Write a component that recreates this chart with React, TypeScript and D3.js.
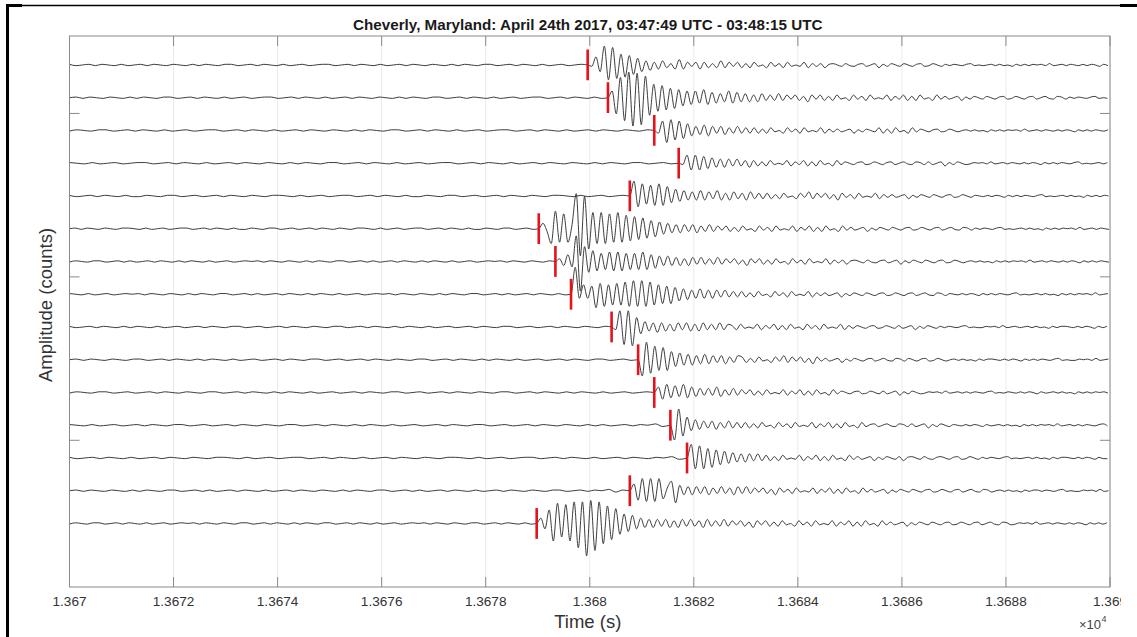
import React from "react";
import * as d3 from "d3";

// ---------- data ----------
const TITLE = "Cheverly, Maryland: April 24th 2017, 03:47:49 UTC - 03:48:15 UTC";
const X_LABEL = "Time (s)";
const Y_LABEL = "Amplitude (counts)";
const X_DOMAIN = [13670, 13690];
const X_TICKS = [13670, 13672, 13674, 13676, 13678, 13680, 13682, 13684, 13686, 13688, 13690];
const X_TICK_LABELS = ["1.367", "1.3672", "1.3674", "1.3676", "1.3678", "1.368", "1.3682", "1.3684", "1.3686", "1.3688", "1.369"];
const X_EXPONENT = "4";
const Y_DOMAIN = [-0.885, 15.94];
const Y_TICKS = [1.48, 6.47, 11.46];
const TRACE_OFFSETS = [0, 1, 2, 3, 4, 5, 6, 7, 8, 9, 10, 11, 12, 13, 14];
const PICK_TIMES = [
  13679.96, 13680.35, 13681.24, 13681.71, 13680.77, 13679.02, 13679.34, 13679.64,
  13680.42, 13680.93, 13681.24, 13681.55, 13681.87, 13680.77, 13678.98,
];
const SAMPLE_DT = 0.08; // s between samples after the pick
const AMP_STEP = 0.0412; // trace-offset units per amplitude step
// amplitude code: '0'=0, '+'=+0.5, '-'=-0.5, A..Z = +1..+26 (up), a..z = -1..-26 (down)
// background noise from 13670 s up to the pick, evenly spread
const PRE_NOISE = [
  "+-0+-+0-+-0+-+0-+0-+-+0-++-0+-+0-+-0+-0++-0+-+0-+-0+-+0-+0-+-+0-++-0+-+0-+-0+-0+",
  "0+-+0-+0-+-+0-++-0+-+0-+-0+-0++-0+-+0-+-0+-+0-+0-+-+0-++-0+-+0-+-0+-0++-0+-+0-+-",
  "-+0-++-0+-+0-+-0+-0++-0+-+0-+-0+-+0-+0-+-+0-++-0+-+0-+-0+-0++-0+-+0-+-0+-+0-+0-+",
  "+0-+-0+-0++-0+-+0-+-0+-+0-+0-+-+0-++-0+-+0-+-0+-0++-0+-+0-+-0+-+0-+0-+-+0-++-0+-",
  "+-0+-+0-+--+0-++-0+-0+-+0-+0-++0-+-0+-0++-0+-+0-+--+0-++-0+-0+-+0-+0-++0-+-0+-0+",
  "0+-+0-+0-++0-+-0+-0++-0+-+0-+--+0-++-0+-0+-+0-+0-++0-+-0+-0++-0+-+0-+--+0-++-0+-",
  "-+0-++-0+-+-0+-+0-+-+0-+-0+-0+0+-+0-+0-+-+0-++-0+-+-0+-+0-+-+0-+-0+-0+0+-+0-+0-+",
  "+0-+-0+-0+0+-+0-+0-+-+0-++-0+-+-0+-+0-+-+0-+-0+-0+0+-+0-+0-+-+0-++-0+-+-0+-+0-+-",
  "+-0+-+0-+-+0-+-0+-0+-+0-++-0+-0+-+0-+0-++-0+-+0-+-+0-+-0+-0+-+0-++-0+-0+-+0-+0-+",
  "0+-+0-+0-++-0+-+0-+-+0-+-0+-0+-+0-++-0+-0+-+0-+0-++-0+-+0-+-+0-+-0+-0+-+0-++-0+-",
  "-+0-++-0+-0+-+0-+0-++-0+-+0-+-+0-+-0+-0+-+0-++-0+-0+-+0-+0-++-0+-+0-+-+0-+-0+-0+",
  "+0-+-0+-0+-+0-++-0+-0+-+0-+0-++-0+-+0-+-+0-+-0+-0+-+0-++-0+-0+-+0-+0-+-+-0+-+0Aa",
  "+-0+-+0-+-0+-+0-+0-++0-+-0+-0++-0+-+0-+-0+-+0-+0-++0-+-0+-0++-0+-+0-+-0+-+0-+0Aa",
  "0+-+0-+0-+-+0-++-0+-+-0+-+0-+-0+-+0-+0-+-+0-++-0+-+-0+-+0-+-0+-+0-+0-++-0+-+0Aa+",
  "-+0-++-0+-+0-+-0+-0+0+-+0-+0-++-0+-+0-+-+0-++-0+-+0-+-0+-0+0+-+0-+0-++-0+-+0-+-",
];
// waveform from the pick onward, one sample every SAMPLE_DT seconds
const SIGNALS = [
  "0aFeNkMjHiGgEeCdBcCbAcDcBaBcBbAbCbBa" +
    "BbAbBa0bBaAbBa0aBbAaAb+A0aA-a+Aa0Ab+aA0aA0a+Aa-A0a+-+0-+A-0-0+-+-0a+-+-+0+-A-0+-+0-+-+0a+-+-+0-+A-0-",
  "0ElOqSuRtPmJjIiGhFfEeEdFeDdCcEdDcCcBcCbBb" +
    "CbBaBbAcBaBbAbBa0bBaAbBa0aBbAaBbAbBa0bBaAa0Ab+aA0aA0a+Aa-A0a+Aa0A-aA+a+-+0-+A-0-0+-+-0a+-+-+0+-A-0+-",
  "0bGiHgGfEdCcDdCbCcBbCbBb" +
    "BbAbBa0bBaAbBa0aBbAaAa0Ab+aA0aBbAbBa0bBaA0a+Aa-A0a0+-+-0a+-+-+0+-A-0+-+0-+-+0a+-+-+0-+A-0-0+-+-0a+-+",
  "0aFeFeEdDcCcCbCbBcBb" +
    "AbBa0aBbAaBbAbBa0bBaA0a+Aa-A0a+Aa0A-aA+aAa0Ab+aA0a-+0+-A-0+-+0-+-+0a+-+-+0-+A-0-0+-+-0a+-+-+0+-A-0+-",
  "0KhIfHgIgGeEdDcCcDcCbDcBcCbBcCbBb" +
    "BbAbBa0bBaCbBaBbAcBaAbBa0aBbAaAa0Ab+aA0aA0a+Aa-A0a+0-+-+0a+-+-+0-+A-0-0+-+-0a+-+-+0+-A-0+-+0-+-+0a+-",
  "0DbkMjKjCZtXoLkLkKjLjJiIhHgFfEdDcCcCbCcBbCbBa" +
    "BbAbBa0bBaAbBa0aBbAaBbAbBa0bBaAa0Ab+aA0aA0a+Aa-A0a+Aa0A-aA+a+-+0-+A-0-0+-+-0a+-+-+0+-A-0+-+0-+-+0a+-",
  "0BcEdSvKhHgFfGgGgFfFfGfEeDcDcCcBcCbCbBb" +
    "CbBaBbAcBaBbAbBa0bBaAbBa0aBbAaAb+A0aA-a+Aa0Ab+aA0aA0a+Aa-A0a0+-+-0a+-+-+0+-A-0+-+0-+-+0a+-+-+0-+A-0-",
  "0TcGcFjHiGhHhIiJiJiIhGgFgEeDdCcDcCcCbCbBb" +
    "BbAbBa0bBaAbBa0aBbAaAa0Ab+aA0aA0a+Aa-A0a+Aa0A-aA+a+0-+-+0a+-+-+0-+A-0-0+-+-0a+-+-+0+-A-0+-+0-+-+0a+-",
  "0bLmLnGeDcCdCcBcCbCcBcCbBbCbB" +
    "AbBa0aBbAaBbAbBa0bBaAbBa0aBbAaA0a+Aa-A0aAa0Ab+aA0a+-+0-+A-0--+0+-A-0+-0+-+-0a+-++0-+-+0a+-+-+0-+A-0-",
  "0lMjJhIhFeEdDdCcDcCbCcBbC" +
    "BbAbBa0bBaCbBaBbAcBaAa0Ab+aA0a+Aa0A-aA+aA0a+Aa-A0a0+-+-0a+-++0-+-+0a+-+-+0-+A-0--+0+-A-0+-0+-+-0a+-+",
  "0DeFdEcFdDcCbCbDcBbCbBaBb" +
    "AbBa0aBbAaBbAbBa0bBaA0a+Aa-A0aAa0Ab+aA0a-+0+-A-0+-+-+0-+A-0-+0-+-+0a+-0+-+-0a+-+-+0+-A-0+-+-+0-+A-0-",
  "0kLhFdDcCbCcBbCbBb" +
    "BbAbBa0bBaAbBa0aBbAaBbAbBa0bBa+Aa0A-aA+aAa0Ab+aA0a+0-+-+0a+-0+-+-0a+-+-+0+-A-0+-+-+0-+A-0-+0-+-+0a+-",
  "0JhIhGgFeEdDcCcCbCbBb" +
    "AbBa0aBbAaBbAbBa0bBaAa0Ab+aA0aAb+A0aA-a+A0a+Aa-A0a+-+0-+A-0-0+-+-0a+-++0-+-+0a+--+0+-A-0+-+-+0-+A-0-",
  "0EgIhIhIfBGiDcCcCbCcBbCbBcCb" +
    "CbBaBbAcBaAbBa0aBbAaBbAbBa0bBaAa0Ab+aA0aA0a+Aa-A0a+Aa0A-aA+a0+-+-0a+-++-+0-+A-0--+0+-A-0+-+0-+-+0a+-",
  "0DdJmOjNmPrPxQtPoMlKhGfFdDcCcCbCcBcCbCbBcCbBb" +
    "CbBaBbAcBaBbAbBa0bBaAbBa0aBbAaBbAbBa0bBaAa0Ab+aA0aA0a+Aa-A0a+Aa0A-aA+a-+0+-A-0+-+0-+-+0a+-+-+0-+A-0-",
];

// ---------- helpers ----------
function decodeSample(c: string): number {
  if (c === "+") return 0.5;
  if (c === "-") return -0.5;
  if (c === "0") return 0;
  const code = c.charCodeAt(0);
  if (code >= 65 && code <= 90) return code - 64;
  if (code >= 97 && code <= 122) return -(code - 96);
  return 0;
}

const FONT = "'Liberation Sans', Arial, Helvetica, sans-serif";

export default function App() {
  const W = 1137;
  const H = 637;
  const left = 69.5;
  const right = 1110;
  const top = 36;
  const bottom = 587;

  const x = d3.scaleLinear().domain(X_DOMAIN).range([left, right]);
  const y = d3.scaleLinear().domain(Y_DOMAIN).range([top, bottom]);

  const traces = TRACE_OFFSETS.map((off, i) => {
    const pick = PICK_TIMES[i];
    const pre = PRE_NOISE[i];
    const pts: [number, number][] = [];
    const step = (pick - X_DOMAIN[0]) / pre.length;
    for (let j = 0; j < pre.length; j++) {
      pts.push([X_DOMAIN[0] + j * step, decodeSample(pre[j])]);
    }
    const sig = SIGNALS[i];
    for (let k = 0; k < sig.length; k++) {
      const t = pick + k * SAMPLE_DT;
      if (t > X_DOMAIN[1]) break;
      pts.push([t, decodeSample(sig[k])]);
    }
    const line = d3
      .line<[number, number]>()
      .x((d) => x(d[0]))
      .y((d) => y(off - d[1] * AMP_STEP))
      .curve(d3.curveMonotoneX);
    return { off, pick, path: line(pts) || "" };
  });

  const tickLen = 10;
  const axisColor = "#8a8a8a";
  const cx = (left + right) / 2;

  return (
    <svg
      width={W}
      height={H}
      style={{ position: "absolute", left: 0, top: 0, display: "block", background: "#fff" }}
      fontFamily={FONT}
    >
      <defs>
        <clipPath id="plotClip">
          <rect x={left} y={top} width={right - left} height={bottom - top} />
        </clipPath>
        <clipPath id="pageClip">
          <rect x={0} y={0} width={1121} height={H} />
        </clipPath>
      </defs>
      <rect x={0} y={0} width={W} height={H} fill="#fff" />

      {/* grid */}
      {X_TICKS.map((t, i) => (
        <line key={"g" + i} x1={x(t)} x2={x(t)} y1={top} y2={bottom} stroke="#ebebeb" strokeWidth={1} />
      ))}

      {/* traces */}
      <g clipPath="url(#plotClip)">
        {traces.map((tr, i) => (
          <path key={"t" + i} d={tr.path} fill="none" stroke="#333" strokeWidth={0.95} strokeLinejoin="round" />
        ))}
        {traces.map((tr, i) => (
          <line
            key={"p" + i}
            x1={x(tr.pick)}
            x2={x(tr.pick)}
            y1={y(tr.off - 0.47)}
            y2={y(tr.off + 0.47)}
            stroke="#e3121b"
            strokeWidth={2.6}
          />
        ))}
      </g>

      {/* axes box */}
      <rect x={left} y={top} width={right - left} height={bottom - top} fill="none" stroke={axisColor} strokeWidth={1} />
      {X_TICKS.map((t, i) => (
        <g key={"xt" + i}>
          <line x1={x(t)} x2={x(t)} y1={bottom} y2={bottom - tickLen} stroke={axisColor} />
          <line x1={x(t)} x2={x(t)} y1={top} y2={top + tickLen} stroke={axisColor} />
        </g>
      ))}
      {Y_TICKS.map((v, i) => (
        <g key={"yt" + i}>
          <line x1={left} x2={left + tickLen} y1={y(v)} y2={y(v)} stroke={axisColor} />
          <line x1={right} x2={right - tickLen} y1={y(v)} y2={y(v)} stroke={axisColor} />
        </g>
      ))}

      {/* tick labels */}
      <g clipPath="url(#pageClip)">
        {X_TICKS.map((t, i) => (
          <text key={"xl" + i} x={x(t)} y={606} textAnchor="middle" fontSize={13.6} fill="#333">
            {X_TICK_LABELS[i]}
          </text>
        ))}
      </g>
      <text x={1101} y={628.5} textAnchor="end" fontSize={13} fill="#444">
        {"\u00d710"}
      </text>
      <text x={1101.5} y={622} fontSize={9} fill="#444">
        {X_EXPONENT}
      </text>

      {/* labels */}
      <text x={cx - 2} y={29.5} textAnchor="middle" fontSize={15.2} fontWeight="bold" fill="#1a1a1a">
        {TITLE}
      </text>
      <text x={cx - 2} y={628} textAnchor="middle" fontSize={18.5} fill="#333">
        {X_LABEL}
      </text>
      <text
        transform={`translate(52, ${305}) rotate(-90)`}
        textAnchor="middle"
        fontSize={18.5}
        fill="#333"
      >
        {Y_LABEL}
      </text>

      {/* page frame */}
      <rect x={6} y={4} width={3} height={H - 4} fill="#000" />
      <line x1={6} x2={W} y1={5.5} y2={5.5} stroke="#000" strokeWidth={1.3} />
      <rect x={6} y={4} width={16} height={3} fill="#000" />
      <rect x={1120} y={4} width={17} height={3} fill="#000" />
    </svg>
  );
}
